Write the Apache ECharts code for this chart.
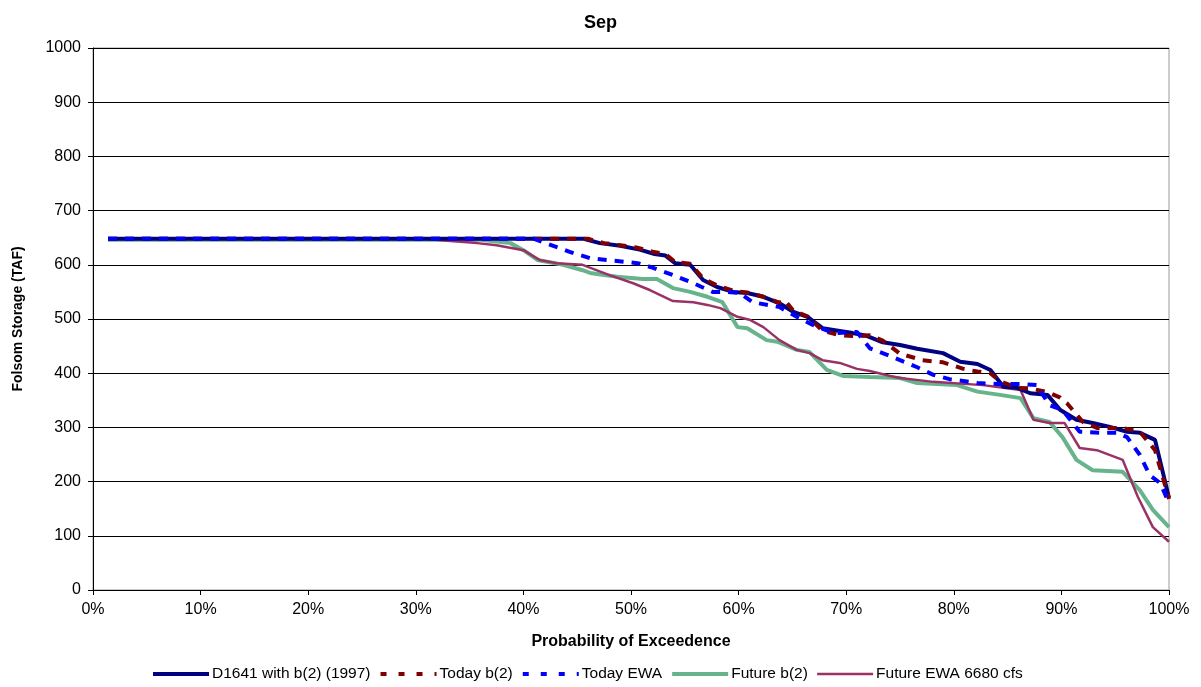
<!DOCTYPE html>
<html style="height: 100%">
<head>
<meta charset="utf-8">
<title>Sep</title>
<script src="https://cdn.jsdelivr.net/npm/echarts@6/dist/echarts.min.js"></script>
</head>
<body style="height: 100%; margin: 0; background: #fff">
<div id="container" style="width: 1201px; height: 687px"></div>
<script type="text/javascript">
// x = probability of exceedence (%), y = Folsom storage (TAF)
var d1641 = [[1.4,648],[45.6,648],[47.1,640],[49,635],[50.8,628],[52.2,620],[53.2,617],[54.1,603],[55.5,600],[56.7,572],[58,559],[59.5,550],[60.8,548],[62.3,541],[63.8,529],[65.1,513],[66.4,504],[67.8,483],[69.4,478],[70.6,474],[71.9,469],[73.4,457],[75,452],[76.6,445],[79,437],[80.6,421],[82.2,417],[83.4,406],[84.6,375],[85.9,373],[87.1,363],[88.7,360],[89.9,332],[91.4,314],[92.9,308],[94.5,301],[96.1,292],[97.3,290],[98.7,277],[100,170]];
var todayB2 = [[1.4,648],[46,648],[47.5,640],[49,636],[50.5,632],[52,624],[53.2,620],[54.1,605],[55.5,602],[56.7,575],[58,562],[59.5,552],[60.8,549],[62.3,541],[63.8,530],[64.3,535],[65.1,515],[66.4,505],[67.8,478],[69.4,470],[71,468],[72.2,470],[73.4,460],[75,436],[77.1,424],[79,420],[80.9,408],[82.2,403],[83.4,400],[84.3,385],[85.9,373],[87.1,372],[88.7,365],[89.9,355],[90.5,345],[92,310],[93.3,299],[95.7,299],[97.3,292],[98.7,258],[100,168]];
var todayEWA = [[1.4,648],[41,648],[41.8,642],[44.3,624],[46.2,612],[48.7,607],[50.6,603],[51.8,596],[53.9,581],[55.8,566],[57.6,550],[58.9,550],[60.1,548],[61.3,531],[63.8,522],[65.4,504],[66.9,489],[68.8,474],[71,476],[72.2,446],[73.8,434],[75,424],[76.6,411],[78.1,397],[79.6,389],[82.2,382],[84,380],[86.4,380],[87.7,378],[88.9,341],[90.1,332],[91.7,292],[93.9,290],[95.2,290],[96.1,282],[97.3,249],[98.2,212],[99.2,197],[100,160]];
var futureB2 = [[1.4,646],[36,646],[38.8,640],[40,627],[41.3,609],[43.7,600],[45.5,590],[46.2,585],[48.7,578],[51.1,574],[52.4,574],[53.9,557],[55.5,550],[57.1,541],[58.5,531],[59.9,485],[60.8,483],[62.6,461],[63.6,458],[65.4,443],[66.6,439],[68.2,406],[69.7,395],[72.2,393],[75,391],[76.6,382],[80.3,378],[82.2,366],[84.3,360],[86.2,354],[87.4,317],[88.9,310],[90.1,282],[91.4,240],[92.9,221],[95.7,218],[97.3,184],[98.5,148],[100,116]];
var futureEWA = [[1.4,648],[30.7,648],[33.2,644],[35.7,640],[37.5,636],[40,627],[41.5,609],[43.1,603],[45.5,600],[48,581],[50.2,566],[51.8,553],[53.9,533],[55.8,531],[57.1,526],[58.3,520],[59.9,504],[61.1,498],[62.3,485],[63.8,461],[65.4,443],[66.6,437],[67.8,424],[69.4,419],[71,408],[72.2,404],[74.1,395],[75,391],[78.1,384],[82.7,378],[84.6,373],[86.2,369],[87.4,314],[88.9,308],[90.3,308],[91.7,262],[93.3,258],[95.7,240],[97.1,172],[98.5,116],[100,89]];

var seriesNames = ['D1641 with b(2) (1997)', 'Today b(2)', 'Today EWA', 'Future b(2)', 'Future EWA 6680 cfs'];

var font = 'Liberation Sans, Arial, sans-serif';
var dom = document.getElementById('container');
var myChart = echarts.init(dom);

function mkLine(name, data, color, width, type) {
    return {
        name: name,
        type: 'line',
        data: data,
        showSymbol: false,
        symbol: 'none',
        lineStyle: { color: color, width: width, type: type },
        itemStyle: { color: color }
    };
}

var option = {
    animation: false,
    backgroundColor: '#fff',
    title: {
        text: 'Sep',
        left: 'center',
        top: 9,
        textStyle: { fontFamily: font, fontSize: 18, fontWeight: 'bold', color: '#000' }
    },
    legend: {
        top: 666,
        left: 151,
        padding: 0,
        itemWidth: 56,
        itemHeight: 12,
        itemGap: 8,
        itemStyle: { opacity: 0 },
        textStyle: { fontFamily: font, fontSize: 15.5, color: '#000', padding: [0, 0, 0, -2] },
        data: [
            { name: seriesNames[0], lineStyle: { width: 4 } },
            { name: seriesNames[1], lineStyle: { width: 4, type: [6, 12] } },
            { name: seriesNames[2], lineStyle: { width: 4, type: [6, 12] } },
            { name: seriesNames[3], lineStyle: { width: 4 } },
            { name: seriesNames[4], lineStyle: { width: 2.5 } }
        ]
    },
    grid: {
        left: 93, right: 32, top: 48, bottom: 97,
        show: true, borderColor: '#999', borderWidth: 1
    },
    xAxis: {
        type: 'value',
        min: 0, max: 100, interval: 10,
        name: 'Probability of Exceedence',
        nameLocation: 'middle',
        nameGap: 44,
        nameTextStyle: { fontFamily: font, fontSize: 16, fontWeight: 'bold', color: '#000' },
        axisLine: { lineStyle: { color: '#000', width: 1 } },
        axisTick: { show: true, length: 5, lineStyle: { color: '#000' } },
        axisLabel: { formatter: '{value}%', fontFamily: font, fontSize: 16, color: '#000', margin: 12 },
        splitLine: { show: false }
    },
    yAxis: {
        type: 'value',
        min: 0, max: 1000, interval: 100,
        name: 'Folsom Storage (TAF)',
        nameLocation: 'middle',
        nameGap: 68,
        nameTextStyle: { fontFamily: font, fontSize: 14, fontWeight: 'bold', color: '#000' },
        axisLine: { show: true, lineStyle: { color: '#000', width: 1 } },
        axisTick: { show: true, length: 5, lineStyle: { color: '#000' } },
        axisLabel: {
            fontFamily: font, fontSize: 16, color: '#000', margin: 12,
            formatter: function (v) { return String(v); }
        },
        splitLine: { show: true, lineStyle: { color: '#000', width: 1 } }
    },
    series: [
        mkLine(seriesNames[0], d1641, '#000080', 4, 'solid'),
        mkLine(seriesNames[1], todayB2, '#800000', 4, [9, 8]),
        mkLine(seriesNames[2], todayEWA, '#0000ff', 4, [9, 8]),
        mkLine(seriesNames[3], futureB2, '#66b38c', 4, 'solid'),
        mkLine(seriesNames[4], futureEWA, '#993366', 2.5, 'solid')
    ]
};
// green and magenta sit under the navy/red lines
option.series[3].z = 1;
option.series[4].z = 1;
myChart.setOption(option);
</script>
</body>
</html>
